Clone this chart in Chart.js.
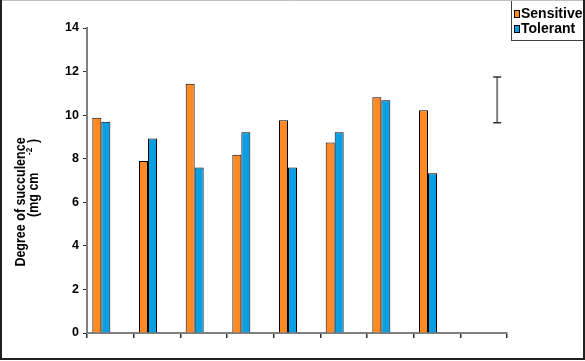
<!DOCTYPE html>
<html>
<head>
<meta charset="utf-8">
<script src="https://cdn.jsdelivr.net/npm/chart.js@4/dist/chart.umd.min.js"></script>
<style>
    body { margin: 0; background: #fff; }
    canvas { display: block; }
</style>
</head>
<body>
<canvas id="chart" width="585" height="361"></canvas>
<script>
"use strict";

const categories = ["1", "2", "3", "4", "5", "6", "7", "8", "9"];
const sensitive = [9.88, 7.89, 11.44, 8.18, 9.76, 8.75, 10.82, 10.22, null];
const tolerant = [9.70, 8.93, 7.60, 9.21, 7.60, 9.21, 10.68, 7.33, null];
const errorBar = [null, null, null, null, null, null, null, null, [9.65, 11.75]];
const spacer = [null, null, null, null, null, null, null, null, null];
const yTicks = [0, 2, 4, 6, 8, 10, 12, 14];
const seriesNames = ["Sensitive", "Tolerant"];

const orange = "#FF8A24";
const blue = "#0A9FE3";
const FONT = "'Liberation Sans', Arial, sans-serif";

// frame, y title, legend box and the error bar
const extras = {
    id: "extras",
    afterDatasetsDraw(chart) {
        const ctx = chart.ctx;
        const y = chart.scales.y;

        // error bar sits in the 4th bar slot of the last category
        const el = chart.getDatasetMeta(3).data[8];
        const range = errorBar[8];
        const yTop = y.getPixelForValue(range[1]);
        const yBot = y.getPixelForValue(range[0]);
        ctx.save();
        ctx.strokeStyle = "#808080";
        ctx.lineWidth = 2;
        ctx.beginPath();
        ctx.moveTo(el.x, yTop);
        ctx.lineTo(el.x, yBot);
        ctx.stroke();
        ctx.strokeStyle = "#333";
        ctx.lineWidth = 1.5;
        ctx.beginPath();
        ctx.moveTo(el.x - 4, yTop);
        ctx.lineTo(el.x + 4, yTop);
        ctx.moveTo(el.x - 4, yBot);
        ctx.lineTo(el.x + 4, yBot);
        ctx.stroke();
        ctx.restore();
    },
    afterDraw(chart) {
        const ctx = chart.ctx;

        // y axis title, two lines
        ctx.save();
        ctx.fillStyle = "#000";
        ctx.translate(25, 202);
        ctx.rotate(-Math.PI / 2);
        ctx.scale(1, 1.15);
        ctx.font = "bold 12.5px " + FONT;
        ctx.textAlign = "center";
        ctx.fillText("Degree of succulence", 0, 0);
        ctx.restore();

        ctx.save();
        ctx.fillStyle = "#000";
        ctx.translate(38, 217);
        ctx.rotate(-Math.PI / 2);
        ctx.scale(1, 1.15);
        ctx.font = "bold 12.5px " + FONT;
        ctx.textAlign = "left";
        ctx.fillText("(mg cm", 0, 0);
        ctx.font = "bold 8px " + FONT;
        ctx.fillText("-2", 62, -5);
        ctx.font = "bold 12.5px " + FONT;
        ctx.fillText(")", 74, 0);
        ctx.restore();

        // legend
        ctx.save();
        ctx.fillStyle = "#fff";
        ctx.fillRect(511, 0, 74, 40);
        ctx.strokeStyle = "#404040";
        ctx.lineWidth = 1;
        ctx.strokeRect(511.5, -1, 80, 41.5);
        const colors = [orange, blue];
        ctx.font = "bold 14px " + FONT;
        ctx.textAlign = "left";
        seriesNames.forEach((name, i) => {
            const top = 10 + i * 15;
            ctx.fillStyle = colors[i];
            ctx.fillRect(514, top, 5, 7);
            ctx.strokeStyle = "#000";
            ctx.strokeRect(514.5, top + 0.5, 5, 7);
            ctx.fillStyle = "#000";
            ctx.fillText(name, 521, top + 7.5);
        });
        ctx.restore();

        // outer frame
        ctx.save();
        ctx.strokeStyle = "#c0c0c0";
        ctx.lineWidth = 1;
        ctx.beginPath();
        ctx.moveTo(0, 0.5);
        ctx.lineTo(585, 0.5);
        ctx.stroke();
        ctx.strokeStyle = "#202020";
        ctx.lineWidth = 2;
        ctx.beginPath();
        ctx.moveTo(1, 0);
        ctx.lineTo(1, 359);
        ctx.lineTo(584, 359);
        ctx.lineTo(584, 0);
        ctx.stroke();
        ctx.restore();
    }
};

new Chart(document.getElementById("chart"), {
    type: "bar",
    data: {
        labels: categories,
        datasets: [
            {
                label: seriesNames[0],
                data: sensitive,
                backgroundColor: orange,
                borderColor: "#000",
                borderWidth: 1
            },
            {
                label: seriesNames[1],
                data: tolerant,
                backgroundColor: blue,
                borderColor: "#000",
                borderWidth: 1
            },
            {
                label: "spacer",
                data: spacer,
                backgroundColor: "transparent",
                borderWidth: 0
            },
            {
                label: "error",
                data: errorBar,
                backgroundColor: "transparent",
                borderWidth: 0
            }
        ]
    },
    options: {
        responsive: false,
        animation: false,
        devicePixelRatio: 1,
        layout: {
            padding: { left: 0, right: 78, top: 28, bottom: 0 }
        },
        datasets: {
            bar: {
                categoryPercentage: 0.771,
                barPercentage: 1
            }
        },
        plugins: {
            legend: { display: false },
            tooltip: { enabled: false }
        },
        scales: {
            x: {
                ticks: { display: false },
                grid: {
                    offset: true,
                    drawOnChartArea: false,
                    drawTicks: true,
                    tickLength: 5,
                    color: "#303030",
                    lineWidth: 1.5
                },
                border: { color: "#808080", width: 2 },
                afterFit(scale) { scale.height = 28; }
            },
            y: {
                min: 0,
                max: 14,
                afterBuildTicks(scale) {
                    scale.ticks = yTicks.map((v) => ({ value: v }));
                },
                ticks: {
                    color: "#000",
                    padding: 4,
                    font: { family: FONT, size: 12.5, weight: "bold" }
                },
                grid: {
                    drawOnChartArea: false,
                    drawTicks: true,
                    tickLength: 4,
                    color: "#303030",
                    lineWidth: 1
                },
                border: { color: "#808080", width: 2 },
                afterFit(scale) { scale.width = 87; }
            }
        }
    },
    plugins: [extras]
});
</script>
</body>
</html>
